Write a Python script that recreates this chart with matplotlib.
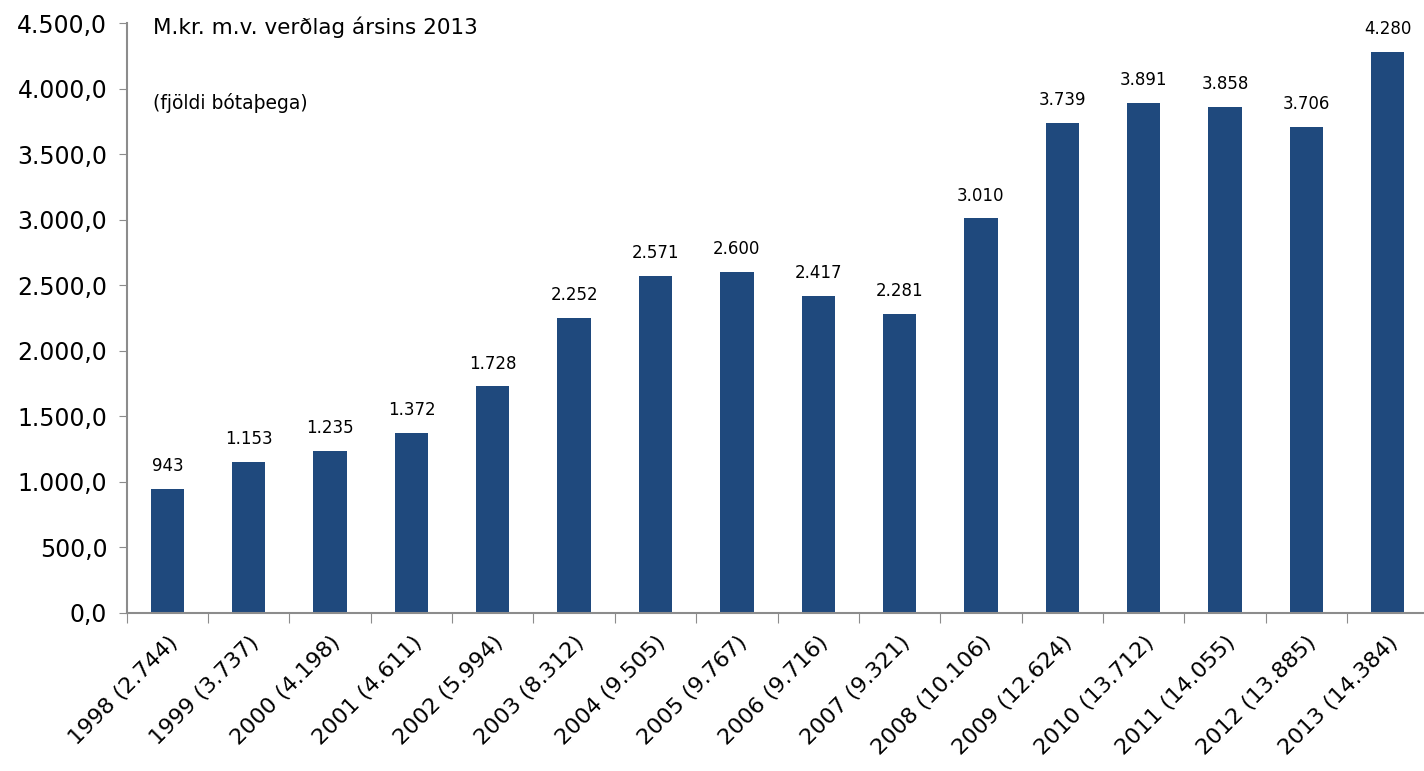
import numpy as np
import matplotlib.pyplot as plt
from matplotlib.ticker import FuncFormatter

plt.rcParams['font.family'] = ['DejaVu Sans']

# Ár og fjöldi bótaþega
years = ['1998', '1999', '2000', '2001', '2002', '2003', '2004', '2005',
         '2006', '2007', '2008', '2009', '2010', '2011', '2012', '2013']
recipients = ['2.744', '3.737', '4.198', '4.611', '5.994', '8.312', '9.505', '9.767',
              '9.716', '9.321', '10.106', '12.624', '13.712', '14.055', '13.885', '14.384']
# M.kr. m.v. verðlag ársins 2013
values = [943, 1153, 1235, 1372, 1728, 2252, 2571, 2600,
          2417, 2281, 3010, 3739, 3891, 3858, 3706, 4280]

bar_color = '#1f497d'
axis_color = '#8c8c8c'

fig = plt.figure(figsize=(14.24, 7.71), dpi=100)
ax = fig.add_axes([0.089, 0.205, 0.914, 0.765])

x = np.arange(len(years))
ax.bar(x, values, width=0.41, color=bar_color)

for xi, v in zip(x, values):
    lbl = f'{v:,}'.replace(',', '.')
    ax.annotate(lbl, (xi, v), xytext=(0, 10), textcoords='offset points',
                ha='center', va='bottom', fontsize=12)

ax.set_xlim(-0.5, len(years) - 0.5)
ax.set_ylim(0, 4500)
ax.set_yticks(np.arange(0, 4501, 500))
ax.yaxis.set_major_formatter(FuncFormatter(
    lambda v, p: f'{v:,.1f}'.replace(',', 'X').replace('.', ',').replace('X', '.')))
ax.tick_params(axis='y', labelsize=17, length=6, color=axis_color, pad=8)

# strik milli flokka, merki í miðju
ax.set_xticks(np.arange(len(years) + 1) - 0.5)
ax.set_xticklabels([])
ax.set_xticks(x, minor=True)
ax.set_xticklabels([f'{y} ({r})' for y, r in zip(years, recipients)], minor=True,
                   rotation=45, ha='right', rotation_mode='anchor', fontsize=16)
ax.tick_params(axis='x', which='major', length=7, color=axis_color)
ax.tick_params(axis='x', which='minor', length=0, pad=14)

for s in ['top', 'right']:
    ax.spines[s].set_visible(False)
for s in ['left', 'bottom']:
    ax.spines[s].set_color(axis_color)
    ax.spines[s].set_linewidth(1.5)

ax.text(0.02, 0.993, 'M.kr. m.v. verðlag ársins 2013', transform=ax.transAxes,
        fontsize=15.5, va='center', ha='left')
ax.text(0.02, 0.865, '(fjöldi bótaþega)', transform=ax.transAxes,
        fontsize=13.5, va='center', ha='left')

fig.savefig('out.png', dpi=100)
